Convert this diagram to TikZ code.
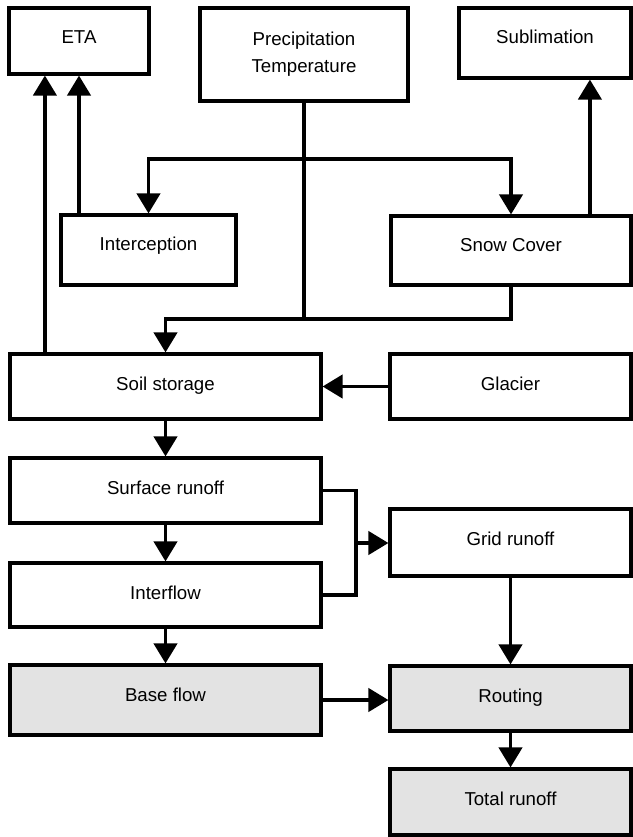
\documentclass[tikz,border=0pt]{standalone}
\usepackage{fontspec}
\setmainfont{Liberation Sans}
\usetikzlibrary{arrows.meta,calc}
\definecolor{boxgray}{HTML}{E3E3E3}
\begin{document}
\begin{tikzpicture}[x=0.75pt,y=-0.75pt,
  bx/.style 2 args={draw=black, line width=2.4pt, fill=white, inner xsep=0pt, inner ysep=0pt,
    minimum width=#1*0.75pt, text height=27pt, text depth=#2*0.75pt-27pt,
    font=\fontsize{14}{17}\selectfont},
  grayfill/.style={fill=boxgray},
  ln/.style={line width=2.4pt},
  arr/.style={ln, -{Triangle[length=15pt,width=17.5pt]}}]
\useasboundingbox (0,0) rectangle (632,837);
% boxes
\node[bx={140}{66}] (eta) at (79,41) {ETA};
\node[draw=black, line width=2.4pt, inner sep=0pt, minimum width=156pt, minimum height=69.75pt,
  align=center, font=\fontsize{14}{20}\selectfont] (precip) at (304,54.5) {Precipitation\\Temperature};
\node[bx={172}{70}] (subl) at (545,43) {Sublimation};
\node[bx={175}{70}] (intc) at (148.5,250) {Interception};
\node[bx={240}{69}] (snow) at (511,250.5) {Snow Cover};
\node[bx={311}{65}] (soil) at (165.5,386.5) {Soil storage};
\node[bx={241}{65}] (glacier) at (510.5,386.5) {Glacier};
\node[bx={311}{65}] (surf) at (165.5,490.5) {Surface runoff};
\node[bx={311}{64}] (interflow) at (165.5,595) {Interflow};
\node[bx={241}{67}] (grid) at (510.5,542.5) {Grid runoff};
\node[bx={311}{70}, grayfill] (base) at (165.5,700) {Base flow};
\node[bx={241}{65}, grayfill] (routing) at (510.5,698.5) {Routing};
\node[bx={241}{66}, grayfill] (total) at (510.5,802) {Total runoff};
% junctions
\coordinate (j1) at (304,159);
\coordinate (j2) at (304,319);
\coordinate (mid) at (356,543);
% connectors
\draw[ln] (precip.south) -- (j2);
\draw[arr] (j1) -| (intc.north);
\draw[arr] (j1) -| (snow.north);
\draw[arr] (snow.south) |- (j2) -| (soil.north);
\draw[arr] (intc.north west -| eta.south) -- (eta.south);
\draw[arr] ($(soil.north west)+(36.5,0)$) coordinate (s1) -- (s1 |- eta.south);
\draw[arr] ($(snow.north west)+(200.5,0)$) coordinate (s2) -- (s2 |- subl.south);
\draw[arr] (glacier.west) -- (glacier.west -| soil.east);
\draw[arr] (soil.south) -- (surf.north);
\draw[arr] (surf.south) -- (interflow.north);
\draw[arr] (interflow.south) -- (base.north);
\draw[ln] (surf.east) -| (mid) |- (interflow.east);
\draw[arr] (mid) -- (mid -| grid.west);
\draw[arr] (grid.south) -- (routing.north);
\draw[arr] (routing.south) -- (total.north);
\draw[arr] (base.east) -- (base.east -| routing.west);
\end{tikzpicture}
\end{document}
